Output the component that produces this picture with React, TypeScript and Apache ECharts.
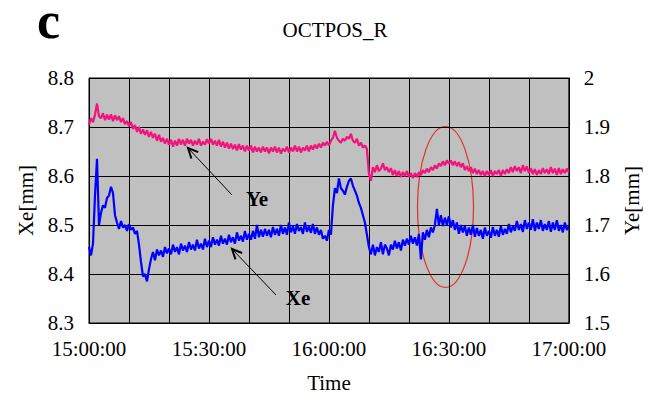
import React, { useEffect, useRef } from "react";
import * as echarts from "echarts";

// Samples every half minute from 15:00:00 (t = 0) to 17:00:00 (t = 120)
const sampleStepMin = 0.5;

const xeValues = [
  8.455, 8.438, 8.462, 8.56, 8.635, 8.5, 8.525, 8.54, 8.535, 8.555,
  8.56, 8.578, 8.565, 8.52, 8.505, 8.492, 8.508, 8.495, 8.5, 8.488,
  8.502, 8.49, 8.495, 8.482, 8.488, 8.46, 8.425, 8.395, 8.4, 8.385,
  8.41, 8.43, 8.445, 8.428, 8.45, 8.438, 8.448, 8.435, 8.455, 8.442,
  8.452, 8.44, 8.46, 8.445, 8.455, 8.44, 8.462, 8.448, 8.458, 8.445,
  8.465, 8.45, 8.46, 8.448, 8.47, 8.452, 8.462, 8.45, 8.472, 8.455,
  8.468, 8.455, 8.475, 8.46, 8.47, 8.458, 8.478, 8.462, 8.472, 8.46,
  8.48, 8.465, 8.475, 8.462, 8.485, 8.468, 8.478, 8.466, 8.488, 8.47,
  8.482, 8.47, 8.488, 8.472, 8.5, 8.475, 8.49, 8.476, 8.492, 8.478,
  8.49, 8.475, 8.496, 8.48, 8.492, 8.478, 8.5, 8.482, 8.495, 8.48,
  8.505, 8.485, 8.498, 8.482, 8.502, 8.488, 8.496, 8.482, 8.505, 8.486,
  8.498, 8.484, 8.502, 8.482, 8.495, 8.48, 8.49, 8.472, 8.478, 8.468,
  8.49, 8.48, 8.54, 8.575, 8.565, 8.595, 8.575, 8.57, 8.562, 8.578,
  8.59, 8.595, 8.58, 8.57, 8.56, 8.545, 8.535, 8.52, 8.505, 8.48,
  8.455, 8.44, 8.46, 8.438, 8.455, 8.445, 8.465, 8.44, 8.46, 8.452,
  8.438, 8.46, 8.45, 8.468, 8.452, 8.465, 8.448, 8.47, 8.458, 8.472,
  8.46, 8.478, 8.462, 8.475, 8.458, 8.482, 8.43, 8.485, 8.47, 8.49,
  8.475, 8.495, 8.485, 8.5, 8.533, 8.5, 8.52, 8.498, 8.515, 8.5,
  8.518, 8.495, 8.51, 8.49, 8.505, 8.482, 8.5, 8.485, 8.498, 8.478,
  8.495, 8.48, 8.5, 8.476, 8.494, 8.478, 8.49, 8.472, 8.495, 8.478,
  8.488, 8.474, 8.496, 8.478, 8.49, 8.476, 8.498, 8.48, 8.492, 8.482,
  8.502, 8.485, 8.498, 8.488, 8.508, 8.49, 8.502, 8.486, 8.51, 8.492,
  8.505, 8.49, 8.512, 8.488, 8.505, 8.492, 8.51, 8.488, 8.502, 8.49,
  8.508, 8.486, 8.505, 8.49, 8.51, 8.488, 8.5, 8.485, 8.505, 8.49,
  8.498,
];

const yeValues = [
  1.905, 1.918, 1.91, 1.925, 1.948, 1.922, 1.918, 1.928, 1.914, 1.925,
  1.915, 1.926, 1.912, 1.924, 1.914, 1.922, 1.91, 1.918, 1.906, 1.912,
  1.902, 1.91, 1.896, 1.904, 1.89, 1.9, 1.886, 1.895, 1.884, 1.893,
  1.88, 1.89, 1.878, 1.886, 1.872, 1.884, 1.87, 1.878, 1.866, 1.876,
  1.864, 1.874, 1.86, 1.872, 1.862, 1.876, 1.864, 1.874, 1.862, 1.876,
  1.866, 1.874, 1.862, 1.872, 1.864, 1.876, 1.862, 1.87, 1.864, 1.875,
  1.866, 1.876, 1.864, 1.872, 1.862, 1.874, 1.86, 1.87, 1.858, 1.868,
  1.856, 1.866, 1.855, 1.864, 1.852, 1.865, 1.854, 1.862, 1.85, 1.862,
  1.852, 1.862, 1.848, 1.86, 1.85, 1.858, 1.848, 1.86, 1.85, 1.858,
  1.846, 1.858, 1.85, 1.86, 1.848, 1.858, 1.846, 1.856, 1.85, 1.86,
  1.848, 1.858, 1.85, 1.862, 1.85, 1.86, 1.848, 1.858, 1.852, 1.862,
  1.85, 1.862, 1.854, 1.864, 1.856, 1.866, 1.858, 1.868, 1.862, 1.87,
  1.862, 1.872, 1.878, 1.892, 1.878, 1.872, 1.868, 1.876, 1.872, 1.88,
  1.876, 1.886, 1.872, 1.868, 1.876, 1.862, 1.868, 1.858, 1.862, 1.855,
  1.805, 1.79, 1.818, 1.808, 1.822, 1.81, 1.815, 1.826, 1.812, 1.818,
  1.808, 1.816, 1.802, 1.812, 1.8, 1.81, 1.798, 1.808, 1.8, 1.81,
  1.798, 1.806, 1.796, 1.806, 1.798, 1.808, 1.802, 1.812, 1.806, 1.815,
  1.808, 1.818, 1.812, 1.822, 1.815, 1.826, 1.82, 1.83, 1.822, 1.832,
  1.825, 1.832, 1.822, 1.83, 1.82, 1.828, 1.818, 1.826, 1.812, 1.82,
  1.81, 1.818, 1.806, 1.815, 1.804, 1.812, 1.802, 1.81, 1.8, 1.81,
  1.802, 1.812, 1.8, 1.81, 1.804, 1.812, 1.8, 1.812, 1.804, 1.814,
  1.806, 1.818, 1.808, 1.82, 1.81, 1.818, 1.806, 1.822, 1.81, 1.82,
  1.806, 1.816, 1.804, 1.814, 1.802, 1.812, 1.804, 1.816, 1.806, 1.814,
  1.804, 1.818, 1.806, 1.815, 1.802, 1.816, 1.804, 1.814, 1.806, 1.815,
  1.808,
];

const timeLabels = ["15:00:00", "15:30:00", "16:00:00", "16:30:00", "17:00:00"];
const leftTicks = [8.3, 8.4, 8.5, 8.6, 8.7, 8.8];
const rightTicks = [1.5, 1.6, 1.7, 1.8, 1.9, 2.0];

const FONT = "Liberation Serif";

export default function App() {
  const ref = useRef<HTMLDivElement>(null);

  useEffect(() => {
    if (!ref.current) return;
    const chart = echarts.init(ref.current, undefined, { renderer: "svg" });

    const xeData = xeValues.map((v, i) => [i * sampleStepMin, v]);
    const yeData = yeValues.map((v, i) => [i * sampleStepMin, v]);

    const axisText = { fontFamily: FONT, fontSize: 21, color: "#000" };

    chart.setOption({
      animation: false,
      backgroundColor: "#fff",
      title: {
        text: "OCTPOS_R",
        left: 330,
        top: 14,
        textAlign: "center",
        textStyle: { fontFamily: FONT, fontSize: 21, fontWeight: "normal", color: "#000" },
      },
      grid: {
        left: 89,
        right: 77,
        top: 78,
        bottom: 74,
        show: true,
        backgroundColor: "#c0c0c0",
        borderColor: "#000",
        borderWidth: 1,
      },
      xAxis: {
        type: "value",
        min: 0,
        max: 120,
        interval: 10,
        name: "Time",
        nameLocation: "middle",
        nameGap: 49,
        nameTextStyle: axisText,
        axisLine: { show: true, lineStyle: { color: "#000", width: 1 } },
        axisTick: { show: false },
        axisLabel: {
          ...axisText,
          margin: 15,
          formatter: (v: number) => (v % 30 === 0 ? timeLabels[v / 30] : ""),
        },
        splitLine: { show: true, lineStyle: { color: "#000", width: 1 } },
      },
      yAxis: [
        {
          type: "value",
          min: leftTicks[0],
          max: leftTicks[leftTicks.length - 1],
          interval: 0.1,
          name: "Xe[mm]",
          nameLocation: "middle",
          nameRotate: 90,
          nameGap: 53,
          nameTextStyle: axisText,
          axisLine: { show: true, lineStyle: { color: "#000" } },
          axisTick: { show: false },
          axisLabel: { ...axisText, margin: 15, formatter: (v: number) => v.toFixed(1) },
          splitLine: { show: true, lineStyle: { color: "#000", width: 1 } },
        },
        {
          type: "value",
          min: rightTicks[0],
          max: rightTicks[rightTicks.length - 1],
          interval: 0.1,
          position: "right",
          name: "Ye[mm]",
          nameLocation: "middle",
          nameRotate: 90,
          nameGap: 50,
          nameTextStyle: axisText,
          axisLine: { show: true, lineStyle: { color: "#000" } },
          axisTick: { show: false },
          axisLabel: {
            ...axisText,
            margin: 15,
            formatter: (v: number) => (Math.abs(v - 2) < 1e-9 ? "2" : v.toFixed(1)),
          },
          splitLine: { show: false },
        },
      ],
      series: [
        {
          name: "Ye",
          type: "line",
          yAxisIndex: 1,
          data: yeData,
          showSymbol: false,
          lineStyle: { color: "#f0147c", width: 2.2 },
        },
        {
          name: "Xe",
          type: "line",
          yAxisIndex: 0,
          data: xeData,
          showSymbol: false,
          lineStyle: { color: "#0000ff", width: 2.2 },
        },
      ],
      graphic: [
        {
          type: "text",
          x: 37,
          y: 2,
          style: {
            text: "c",
            font: `bold 52px "${FONT}"`,
            lineHeight: 36,
            fill: "#000",
            verticalAlign: "top",
          },
        },
        {
          type: "text",
          x: 257,
          y: 199,
          style: { text: "Ye", font: `bold 21px "${FONT}"`, fill: "#000", align: "center", verticalAlign: "middle" },
        },
        {
          type: "text",
          x: 298,
          y: 298,
          style: { text: "Xe", font: `bold 21px "${FONT}"`, fill: "#000", align: "center", verticalAlign: "middle" },
        },
        { type: "line", shape: { x1: 232, y1: 195, x2: 188, y2: 148 }, style: { stroke: "#000", lineWidth: 1 } },
        {
          type: "polyline",
          shape: { points: [[191.4, 158.5], [188, 148], [198.2, 152.1]] },
          style: { stroke: "#000", lineWidth: 2, fill: "none" },
        },
        { type: "line", shape: { x1: 276, y1: 295, x2: 232, y2: 249 }, style: { stroke: "#000", lineWidth: 1 } },
        {
          type: "polyline",
          shape: { points: [[235.5, 259.4], [232, 249], [242.2, 253]] },
          style: { stroke: "#000", lineWidth: 2, fill: "none" },
        },
        {
          type: "ellipse",
          shape: { cx: 445.5, cy: 207, rx: 28, ry: 80.5 },
          style: { stroke: "#e0302a", lineWidth: 1.2, fill: "none" },
        },
      ],
    });

    return () => chart.dispose();
  }, []);

  return (
    <div
      ref={ref}
      style={{ position: "absolute", left: 0, top: 0, width: 650, height: 398 }}
    />
  );
}
